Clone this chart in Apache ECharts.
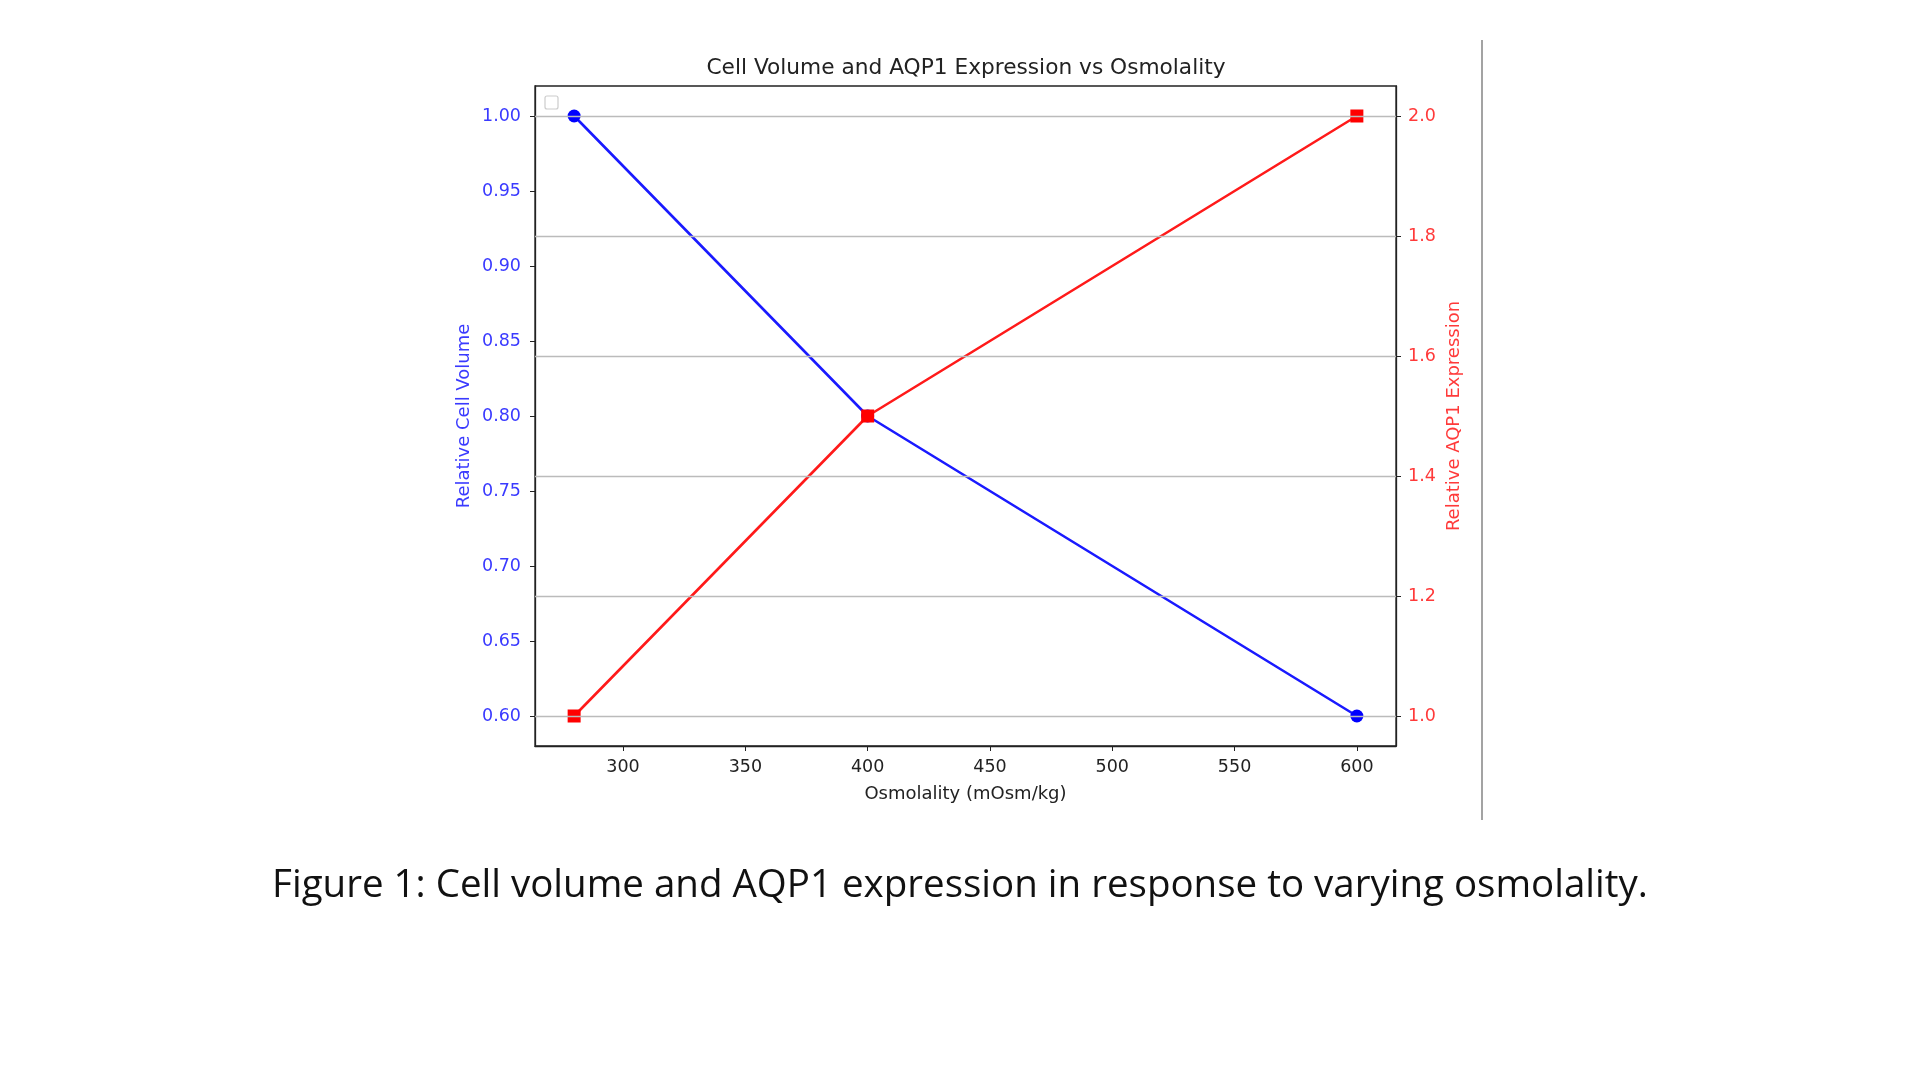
<!DOCTYPE html>
<html><head><meta charset="utf-8">
<script src="https://cdn.jsdelivr.net/npm/echarts@6/dist/echarts.min.js"></script>
<style>html,body{margin:0;padding:0;background:#fff}#c{width:1920px;height:1080px}</style>
</head><body><div id="c"></div>
<script>
const osmolality = [280, 400, 600];
const cellVolume = [1.0, 0.8, 0.6];
const aqp1 = [1.0, 1.5, 2.0];
const xTicks = [300, 350, 400, 450, 500, 550, 600];
const leftTicks = [0.60, 0.65, 0.70, 0.75, 0.80, 0.85, 0.90, 0.95, 1.00];
const rightTicks = [1.0, 1.2, 1.4, 1.6, 1.8, 2.0];

const F = 'DejaVu Sans';
const blueTxt = '#3a3aff', redTxt = '#ff3a3a';
const chart = echarts.init(document.getElementById('c'), null, {renderer: 'canvas'});
chart.setOption({
  animation: false,
  title: {
    text: 'Cell Volume and AQP1 Expression vs Osmolality',
    left: 961, top: 52, textAlign: 'center',
    textStyle: {fontFamily: F, fontSize: 21.7, fontWeight: 'normal', color: '#222'}
  },
  grid: {left: 535, top: 86, width: 861, height: 660, show: true, borderColor: '#222', borderWidth: 1.3, backgroundColor: 'transparent'},
  xAxis: {
    type: 'value', min: 264, max: 616,
    name: 'Osmolality (mOsm/kg)', nameLocation: 'middle', nameGap: 39,
    nameTextStyle: {fontFamily: F, fontSize: 18, color: '#222'},
    axisLine: {show: true, lineStyle: {color: '#222', width: 1.3}},
    axisTick: {show: true, length: 5, lineStyle: {color: '#222'}, customValues: xTicks},
    axisLabel: {fontFamily: F, fontSize: 17.5, color: '#222', margin: 12, customValues: xTicks},
    splitLine: {show: false}
  },
  yAxis: [{
    type: 'value', min: 0.58, max: 1.02, position: 'left',
    name: 'Relative Cell Volume', nameLocation: 'middle', nameGap: 62,
    nameTextStyle: {fontFamily: F, fontSize: 18, color: blueTxt},
    axisLine: {show: true, lineStyle: {color: '#222', width: 1.3}},
    axisTick: {show: true, length: 5, lineStyle: {color: '#222'}, customValues: leftTicks},
    axisLabel: {fontFamily: F, fontSize: 17.5, color: blueTxt, margin: 14, customValues: leftTicks, formatter: v => v.toFixed(2)},
    splitLine: {show: false}
  }, {
    type: 'value', min: 0.95, max: 2.05, position: 'right',
    name: 'Relative AQP1 Expression', nameLocation: 'middle', nameGap: 49, nameRotate: 90,
    nameTextStyle: {fontFamily: F, fontSize: 18, color: redTxt},
    axisLine: {show: true, lineStyle: {color: '#222', width: 1.3}},
    axisTick: {show: true, length: 5, lineStyle: {color: '#222'}, customValues: rightTicks},
    axisLabel: {fontFamily: F, fontSize: 17.5, color: redTxt, margin: 12, customValues: rightTicks, formatter: v => v.toFixed(1)},
    splitLine: {show: false}
  }],
  series: [{
    type: 'line', yAxisIndex: 0, z: 2,
    data: osmolality.map((x, i) => [x, cellVolume[i]]),
    symbol: 'circle', symbolSize: 13, showAllSymbol: true,
    lineStyle: {color: '#1a1aff', width: 2.6}, itemStyle: {color: '#0000ff'}
  }, {
    type: 'line', yAxisIndex: 1, z: 3,
    data: osmolality.map((x, i) => [x, aqp1[i]]),
    symbol: 'rect', symbolSize: 13, showAllSymbol: true,
    lineStyle: {color: '#ff1a1a', width: 2.6}, itemStyle: {color: '#ff0000'},
    markLine: {
      silent: true, symbol: ['none', 'none'], label: {show: false},
      lineStyle: {color: '#bbbbbb', width: 1.3, type: 'solid'},
      data: rightTicks.map(v => ({yAxis: v}))
    }
  }],
  graphic: [
    {type: 'rect', shape: {x: 545, y: 96, width: 13, height: 13, r: 2}, style: {fill: '#fff', stroke: '#cccccc', lineWidth: 1.2}},
    {type: 'line', shape: {x1: 1482, y1: 40, x2: 1482, y2: 820}, style: {stroke: '#666', lineWidth: 1.2}},
    {type: 'text', x: 960, y: 886, style: {text: 'Figure 1: Cell volume and AQP1 expression in response to varying osmolality.', align: 'center', verticalAlign: 'middle', fontFamily: 'Open Sans', fontSize: 38.5, fill: '#111'}}
  ]
});
</script></body></html>
